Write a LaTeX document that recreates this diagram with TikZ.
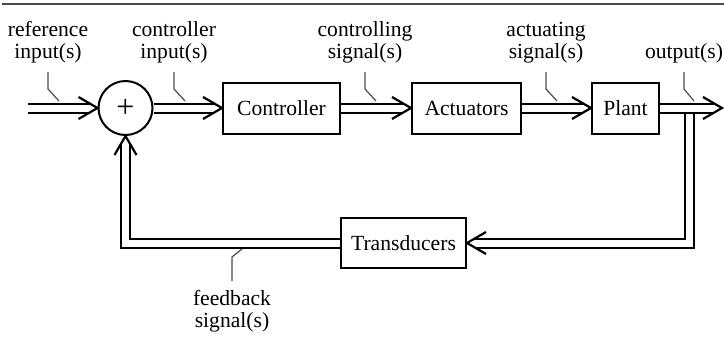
\documentclass[tikz,border=0pt]{standalone}
\usepackage{fontspec}
\setmainfont{Liberation Serif}
\usetikzlibrary{positioning}
\usetikzlibrary{decorations.markings}

\newcommand{\lblfont}{\fontsize{10.8}{11}\selectfont}

\tikzset{
  blk/.style={draw, line width=1pt, minimum height=25.5pt, inner sep=0pt, font=\lblfont},
  sumc/.style={draw, circle, line width=1pt, minimum size=27pt, inner sep=0pt, font=\fontsize{16}{16}\selectfont},
  dbl/.style={draw, line width=1pt, double, double distance=3.5pt},
  sig/.style={dbl, shorten >=4pt,
    postaction={decorate, decoration={markings, mark=at position 1 with
      {\draw[line width=1.1pt, shorten >=0pt, shorten <=0pt] (-9.5pt,5.5pt) -- (0,0) -- (-9.5pt,-5.5pt);}}}},
  lead/.style={black!70, line width=0.6pt},
  lbl/.style={align=center, inner sep=0pt, outer sep=4.5pt, font=\lblfont}
}

\begin{document}
\begin{tikzpicture}[x=0.5pt,y=-0.5pt]
\useasboundingbox (0,0) rectangle (724,338);

\draw[line width=1pt, black!70] (2,3.5) -- (724,3.5);

% blocks
{
\node[sumc] (sum) at (125.5,108) {+};
\node[blk, minimum width=58.5pt] (ctrl) at (281.5,108) {Controller};
\node[blk, minimum width=54.5pt] (act) at (466.5,108) {Actuators};
\node[blk, minimum width=33.5pt] (plant) at (625.5,108) {Plant};
\node[blk, minimum width=62.5pt, minimum height=25pt] (trans) at (403.5,243) {Transducers};

\coordinate (in) at (28,108);
\coordinate (out) at (722,108);
\coordinate (tap) at (689.5,112.5);
}

% feedback loop
\draw[sig] (tap) |- (trans.east);
\draw[sig] (trans.west) -| (sum.south);

% forward path
\draw[sig] (in) -- (sum.west);
\draw[sig] (sum.east) -- (ctrl.west);
\draw[sig] (ctrl.east) -- (act.west);
\draw[sig] (act.east) -- (plant.west);
\draw[sig] (plant.east) -- (out);

% labels
{
\node[lbl, anchor=south] (reflbl) at (48,72) {reference\\input(s)};
\node[lbl, anchor=south] (cinlbl) at (174,72) {controller\\input(s)};
\node[lbl, anchor=south] (csiglbl) at (365,72) {controlling\\signal(s)};
\node[lbl, anchor=south] (asiglbl) at (546,72) {actuating\\signal(s)};
\node[lbl, anchor=south] (outlbl) at (684,72) {output(s)};
\node[lbl, anchor=north] (fblbl) at (232,281) {feedback\\signal(s)};

\draw[lead] (reflbl.south) -- ++(0,17) -- ++(11,12);
\draw[lead] (cinlbl.south) -- ++(0,17) -- ++(11,12);
\draw[lead] (csiglbl.south) -- ++(0,17) -- ++(11,12);
\draw[lead] (asiglbl.south) -- ++(0,17) -- ++(11,12);
\draw[lead] (outlbl.south) -- ++(0,17) -- ++(10,12);
\draw[lead] (fblbl.north) -- ++(0,-24) -- ++(10,-8);
}

\end{tikzpicture}
\end{document}
